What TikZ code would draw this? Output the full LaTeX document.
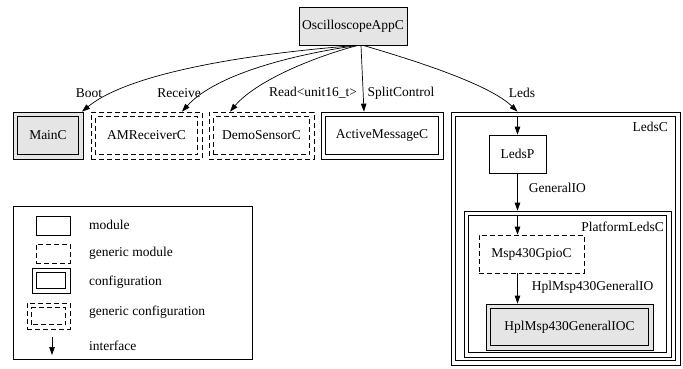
\documentclass[tikz,border=0pt]{standalone}
\usepackage{fontspec}
\setmainfont{Liberation Serif}
\usetikzlibrary{arrows.meta, positioning}

\begin{document}
\begin{tikzpicture}[
x=1pt, y=-1pt,
font=\fontsize{13.5}{16}\selectfont,
module/.style={draw, rectangle, line width=0.7pt, inner sep=0pt, minimum height=38pt},
genmodule/.style={module, dash pattern=on 5pt off 3pt},
inbox/.style={path picture={\draw[line width=0.7pt, #1]
  ([shift={(4.5pt,4.5pt)}]path picture bounding box.south west) rectangle
  ([shift={(-4.5pt,-4.5pt)}]path picture bounding box.north east);}},
config/.style={module, minimum height=47pt, inbox=solid},
genconfig/.style={genmodule, minimum height=47pt, inbox={dash pattern=on 5pt off 3pt}},
shaded/.style={fill=black!10},
lbl/.style={inner sep=0pt},
arrow/.style={-{Triangle[length=8pt, width=5.5pt]}, line width=0.7pt}
]
\useasboundingbox (0,0) rectangle (683,369);

% Top component
\node[module, shaded, minimum width=108pt] (app) at (353,26) {OscilloscopeAppC};

% Wired components
\node[config, shaded, minimum width=70pt] (mainc) at (48,135.5) {MainC};
\node[genconfig, minimum width=111pt] (amrecv) at (146.5,135.5) {AMReceiverC};
\node[genconfig, minimum width=105pt] (demo) at (261.5,135.5) {DemoSensorC};
\node[config, minimum width=122pt] (amsg) at (382,135.5) {ActiveMessageC};

% LedsC cluster
\node[config, minimum width=229pt, minimum height=253pt] (ledsc) at (565.5,238.5) {};
\node[lbl, anchor=east] (ledsclbl) at (668,127) {LedsC};
\node[module, minimum width=57pt] (ledsp) at (517.5,154) {LedsP};

% PlatformLedsC cluster
\node[config, minimum width=207pt, minimum height=146pt] (platc) at (567.5,284) {};
\node[lbl, anchor=east] (platclbl) at (664,227) {PlatformLedsC};
\node[genmodule, minimum width=105pt] (gpio) at (531.5,254) {Msp430GpioC};
\node[config, shaded, minimum width=167pt, minimum height=46pt] (hpl) at (569.5,327) {HplMsp430GeneralIOC};

\coordinate (ledsin) at (ledsp.north |- ledsc.north);
\coordinate (platin) at (ledsp.south |- platc.north);

% Connections
\draw[arrow] ([xshift=5pt]app.south) .. controls (255,53) and (130,72) .. ([xshift=34pt]mainc.north);
\draw[arrow] ([xshift=5pt]app.south) .. controls (290,55) and (215,75) .. ([xshift=35.5pt]amrecv.north);
\draw[arrow] ([xshift=5pt]app.south) .. controls (310,58) and (255,82) .. ([xshift=-31.5pt]demo.north);
\draw[arrow] ([xshift=8pt]app.south) -- node[lbl, right=4pt, pos=0.72] (lsplit) {SplitControl} ([xshift=-18pt]amsg.north);
\draw[arrow] ([xshift=10pt]app.south) .. controls (420,62) and (490,85) .. (ledsin);

\node[lbl] (lboot) at (89,93) {Boot};
\node[lbl] (lrecv) at (179,93) {Receive};
\node[lbl] (lread) at (313,93) {Read<unit16\_t>};
\node[lbl] (lleds) at (522,93) {Leds};

\draw[arrow] ([yshift=-4.5pt]ledsin) -- (ledsp.north);
\draw[arrow] (ledsp.south) -- node[lbl, right=11pt, pos=0.4] (lgio) {GeneralIO} (platin);
\draw[arrow] ([yshift=-4.5pt]platin) -- (ledsp |- gpio.north);
\draw[arrow] (ledsp |- gpio.south) -- node[lbl, right=14pt, pos=0.45] (lhplio) {HplMsp430GeneralIO} (ledsp |- hpl.north);

% Legend
\node[draw, line width=0.7pt, minimum width=239pt, minimum height=153pt] (legend) at (132.5,282.5) {};
\node[module, minimum width=34pt, minimum height=19pt] (kmod) at (53,225.5) {};
\node[genmodule, minimum width=34pt, minimum height=19pt] (kgmod) at (53,253.5) {};
\node[config, minimum width=38pt, minimum height=25pt] (kconf) at (51,280.5) {};
\node[genconfig, minimum width=43pt, minimum height=26pt] (kgconf) at (48.5,316) {};
\coordinate (kiftop) at (52,337);
\coordinate (kifbot) at (52,355);
\draw[arrow] (kiftop) -- (kifbot);

\node[lbl, anchor=west] (tmod) at (89,225) {module};
\node[lbl, anchor=west] (tgmod) at (89,253.5) {generic module};
\node[lbl, anchor=west] (tconf) at (89,282) {configuration};
\node[lbl, anchor=west] (tgconf) at (89,312) {generic configuration};
\node[lbl, anchor=west] (tif) at (89,346) {interface};

\end{tikzpicture}
\end{document}
